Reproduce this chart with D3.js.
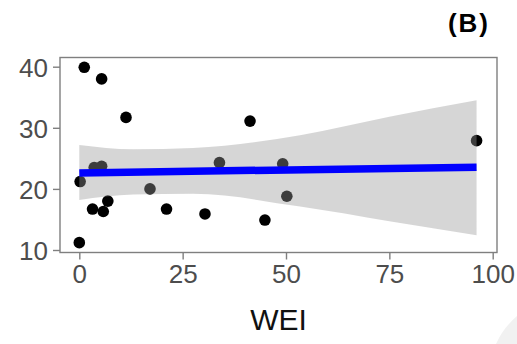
<!DOCTYPE html>
<html>
<head>
<meta charset="utf-8">
<script src="https://cdn.jsdelivr.net/npm/d3@7"></script>
<style>
  body { margin: 0; background: #fff; }
  svg { display: block; font-family: "Liberation Sans", Arial, sans-serif; }
</style>
</head>
<body>
<svg id="chart" width="517" height="344"></svg>
<script>
// points
const wei = [1.2, 5.4, 11.3, 41.3, 0.2, 3.6, 5.4, 33.9, 17.1, 3.2, 5.8, 6.9, 21.1, 30.4, 0, 49.2, 50.2, 44.9, 96.1];
const outcome = [39.9, 38.0, 31.7, 31.1, 21.2, 23.5, 23.7, 24.3, 20.0, 16.7, 16.3, 18.0, 16.7, 15.9, 11.2, 24.1, 18.8, 14.9, 27.9];

// confidence band edges, read at a few WEI values
const bandWei = [0, 13, 27.5, 53.4, 75, 96.1];
const bandLow = [18.2, 19.1, 19.2, 17.1, 14.7, 12.4];
const bandHigh = [27.2, 26.5, 26.7, 28.8, 31.8, 34.5];

const xTicks = [0, 25, 50, 75, 100];
const yTicks = [10, 20, 30, 40];

const svg = d3.select("#chart");

const panel = {left: 60, right: 497, top: 57.5, bottom: 252.5};

const x = d3.scaleLinear().domain([0, 100]).range([79.3, 492.7]);
const y = d3.scaleLinear().domain([10, 40]).range([250, 66.7]);

const points = wei.map((w, i) => ({w: w, v: outcome[i]}));

// least squares fit, like geom_smooth(method = "lm")
const mx = d3.mean(wei), my = d3.mean(outcome);
const slope = d3.sum(points, d => (d.w - mx) * (d.v - my)) / d3.sum(points, d => (d.w - mx) ** 2);
const icpt = my - slope * mx;
const xMin = d3.min(wei), xMax = d3.max(wei);

// faint corner shape at bottom right
svg.append("path")
    .attr("d", "M496,344 Q503,328 517,316 L517,344 Z")
    .attr("fill", "#f1f1f1");

// points first, band goes over them
svg.append("g")
    .selectAll("circle")
    .data(points)
    .enter()
    .append("circle")
    .attr("cx", d => x(d.w))
    .attr("cy", d => y(d.v))
    .attr("r", 5.8)
    .attr("fill", "#000");

const band = bandWei.map((w, i) => ({w: w, lo: bandLow[i], hi: bandHigh[i]}));

svg.append("path")
    .datum(band)
    .attr("d", d3.area()
        .x(d => x(d.w))
        .y0(d => y(d.lo))
        .y1(d => y(d.hi))
        .curve(d3.curveMonotoneX))
    .attr("fill", "#999999")
    .attr("fill-opacity", 0.4);

svg.append("line")
    .attr("x1", x(xMin))
    .attr("x2", x(xMax))
    .attr("y1", y(icpt + slope * xMin))
    .attr("y2", y(icpt + slope * xMax))
    .attr("stroke", "#0000ff")
    .attr("stroke-width", 7.5);

// panel border
svg.append("rect")
    .attr("x", panel.left)
    .attr("y", panel.top)
    .attr("width", panel.right - panel.left)
    .attr("height", panel.bottom - panel.top)
    .attr("fill", "none")
    .attr("stroke", "#7f7f7f")
    .attr("stroke-width", 1.4);

// axes
const xAxis = svg.append("g")
    .attr("transform", `translate(0,${panel.bottom})`)
    .call(d3.axisBottom(x).tickValues(xTicks).tickSize(7).tickPadding(4));
const yAxis = svg.append("g")
    .attr("transform", `translate(${panel.left},0)`)
    .call(d3.axisLeft(y).tickValues(yTicks).tickSize(7).tickPadding(5));

[xAxis, yAxis].forEach(a => {
    a.select(".domain").remove();
    a.selectAll(".tick line").attr("stroke", "#7f7f7f").attr("stroke-width", 1.4);
    a.selectAll(".tick text")
        .attr("fill", "#4d4d4d")
        .style("font-size", "26px")
        .style("font-family", "'Liberation Sans', Arial, sans-serif");
});
yAxis.selectAll(".tick text").attr("dy", "0.36em");
xAxis.selectAll(".tick text").attr("dy", "0.76em");

svg.append("text")
    .attr("x", (panel.left + panel.right) / 2)
    .attr("y", 330)
    .attr("text-anchor", "middle")
    .attr("fill", "#111")
    .style("font-size", "30px")
    .text("WEI");

svg.append("text")
    .attr("x", 490)
    .attr("y", 32)
    .attr("text-anchor", "end")
    .attr("fill", "#000")
    .style("font-size", "26px")
    .style("font-weight", "bold")
    .style("letter-spacing", "2px")
    .text("(B)");
</script>
</body>
</html>
